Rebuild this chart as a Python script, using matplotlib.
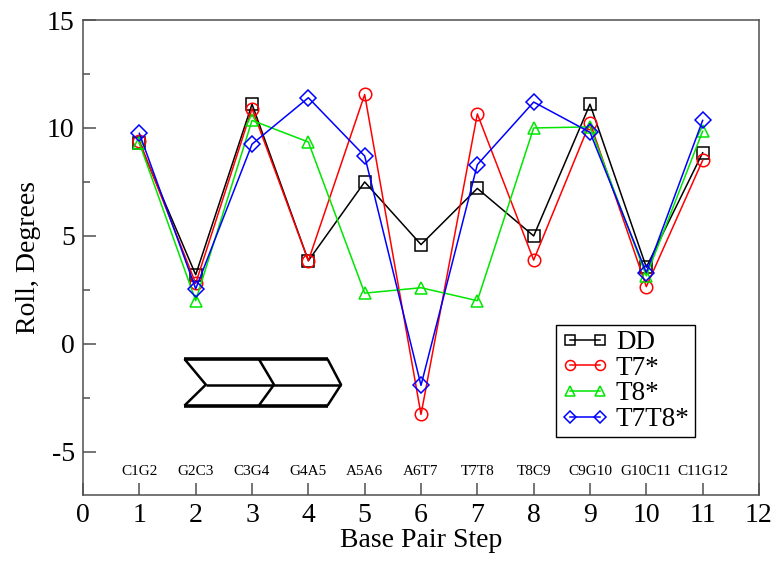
"""Roll角のbase pair step比較図を作成する。"""

from __future__ import annotations

import matplotlib

matplotlib.use("Agg")
import matplotlib.pyplot as plt
from matplotlib.ticker import MultipleLocator

OUTPUT_PATH = "out.png"

STEPS = [1, 2, 3, 4, 5, 6, 7, 8, 9, 10, 11]
STEP_LABELS = [
    "C1G2", "G2C3", "C3G4", "G4A5", "A5A6", "A6T7",
    "T7T8", "T8C9", "C9G10", "G10C11", "C11G12",
]
ROLL_DD = [9.3, 3.2, 11.1, 3.85, 7.5, 4.6, 7.2, 5.0, 11.1, 3.55, 8.85]
ROLL_T7 = [9.4, 2.8, 10.9, 3.85, 11.55, -3.27, 10.65, 3.88, 10.25, 2.65, 8.5]
ROLL_T8 = [9.3, 2.0, 10.35, 9.35, 2.35, 2.6, 2.0, 10.0, 10.05, 3.15, 9.85]
ROLL_T7T8 = [9.75, 2.55, 9.25, 11.4, 8.7, -1.92, 8.3, 11.2, 9.8, 3.3, 10.35]

SERIES = [
    ("DD", ROLL_DD, "black", "s"),
    ("T7*", ROLL_T7, "#ff0000", "o"),
    ("T8*", ROLL_T8, "#00e600", "^"),
    ("T7T8*", ROLL_T7T8, "#0000ff", "D"),
]

# 矢印(シェブロン)の頂点
CHEVRON_TOP = -0.7
CHEVRON_MID = -1.89
CHEVRON_BOTTOM = -2.86
CHEVRON_X = [1.80, 2.18, 3.12, 3.39, 4.34, 4.58]

FONT = ["Liberation Serif", "DejaVu Serif"]


def draw_chevron(axes) -> None:
    """2連のシェブロン図形を描く。"""
    x_left, x_notch, x_mid, x_mid_tip, x_right, x_tip = CHEVRON_X
    top, mid, bottom = CHEVRON_TOP, CHEVRON_MID, CHEVRON_BOTTOM
    kw = dict(color="black", solid_capstyle="butt", zorder=2)
    axes.plot([x_left, x_right], [top, top], lw=2.6, **kw)
    axes.plot([x_left, x_right], [bottom, bottom], lw=2.6, **kw)
    axes.plot([x_notch, x_tip], [mid, mid], lw=1.8, **kw)
    axes.plot([x_left, x_notch, x_left], [top, mid, bottom], lw=1.8, **kw)
    axes.plot([x_mid, x_mid_tip, x_mid], [top, mid, bottom], lw=1.8, **kw)
    axes.plot([x_right, x_tip, x_right], [top, mid, bottom], lw=1.8, **kw)


def main() -> None:
    plt.rcParams["font.family"] = FONT
    plt.rcParams["axes.unicode_minus"] = False

    fig = plt.figure(figsize=(7.79, 5.62), dpi=100)
    axes = fig.add_axes([0.1066, 0.1192, 0.8677, 0.8452])

    for label, values, color, marker in SERIES:
        axes.plot(
            STEPS,
            values,
            color=color,
            lw=1.1,
            marker=marker,
            markersize=9 if marker != "D" else 8,
            markerfacecolor="none",
            markeredgecolor=color,
            markeredgewidth=1.1,
            label=label,
            zorder=3,
        )

    draw_chevron(axes)

    for step, text in zip(STEPS, STEP_LABELS):
        axes.text(step, -5.9, text, ha="center", va="center", fontsize=11)

    axes.set_xlim(0, 12)
    axes.set_ylim(-7, 15)
    axes.set_xticks(range(0, 13))
    axes.yaxis.set_major_locator(MultipleLocator(5))
    axes.yaxis.set_minor_locator(MultipleLocator(2.5))
    axes.tick_params(axis="both", which="major", direction="in", length=9,
                     width=1.1, color="#505050", labelsize=20, pad=6)
    axes.tick_params(axis="y", which="minor", direction="in", length=5,
                     width=1.1, color="#505050")
    axes.tick_params(top=False, right=False)
    for spine in axes.spines.values():
        spine.set_color("#505050")
        spine.set_linewidth(1.1)

    axes.set_xlabel("Base Pair Step", fontsize=20, labelpad=0)
    axes.set_ylabel("Roll, Degrees", fontsize=20, labelpad=4)

    legend = axes.legend(
        loc="upper left",
        bbox_to_anchor=(0.70, 0.358),
        fontsize=19.5,
        numpoints=2,
        markerscale=0.8,
        handlelength=1.7,
        handletextpad=0.3,
        labelspacing=0.02,
        borderpad=0.2,
        borderaxespad=0,
        fancybox=False,
        framealpha=1,
    )
    legend.get_frame().set_edgecolor("black")
    legend.get_frame().set_linewidth(1.0)

    fig.savefig(OUTPUT_PATH, dpi=100)
    plt.close(fig)
    print(f"saved: {OUTPUT_PATH}")


if __name__ == "__main__":
    main()
